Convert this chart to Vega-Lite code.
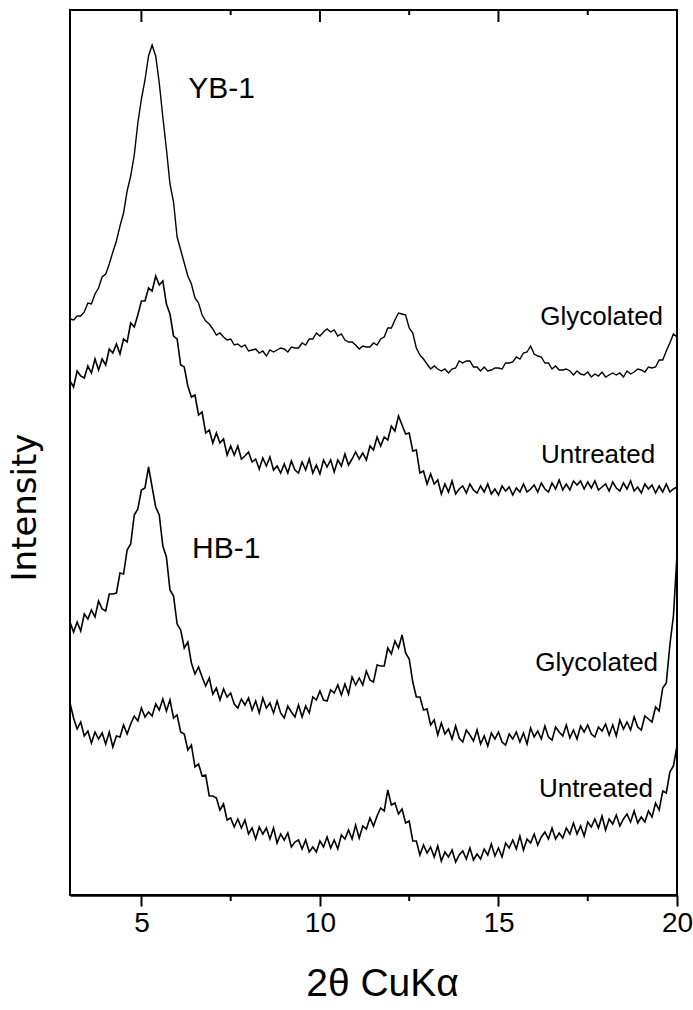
{
  "$schema": "https://vega.github.io/schema/vega-lite/v6.json",
  "width": 607,
  "height": 885,
  "autosize": {"type": "none"},
  "padding": {"left": 70, "top": 10, "right": 16, "bottom": 115},
  "background": "white",
  "config": {"view": {"stroke": "black", "strokeWidth": 2}, "axis": {"grid": false}},
  "datasets": {
    "a": [{"x":3.0,"y":576},{"x":3.1,"y":575},{"x":3.2,"y":579},{"x":3.3,"y":579},{"x":3.4,"y":583},{"x":3.5,"y":592},{"x":3.6,"y":591},{"x":3.7,"y":601},{"x":3.8,"y":607},{"x":3.9,"y":618},
      {"x":4.0,"y":621},{"x":4.1,"y":631},{"x":4.2,"y":643},{"x":4.3,"y":654},{"x":4.4,"y":669},{"x":4.5,"y":682},{"x":4.6,"y":704},{"x":4.7,"y":719},{"x":4.8,"y":740},{"x":4.9,"y":772},
      {"x":5.0,"y":796},{"x":5.1,"y":815},{"x":5.2,"y":839},{"x":5.3,"y":850},{"x":5.4,"y":839},{"x":5.5,"y":812},{"x":5.6,"y":778},{"x":5.7,"y":746},{"x":5.8,"y":711},{"x":5.9,"y":693},
      {"x":6.0,"y":658},{"x":6.1,"y":645},{"x":6.2,"y":632},{"x":6.3,"y":619},{"x":6.4,"y":611},{"x":6.5,"y":597},{"x":6.6,"y":592},{"x":6.7,"y":580},{"x":6.8,"y":574},{"x":6.9,"y":571},
      {"x":7.0,"y":566},{"x":7.1,"y":560},{"x":7.2,"y":562},{"x":7.3,"y":558},{"x":7.4,"y":555},{"x":7.5,"y":556},{"x":7.6,"y":550},{"x":7.7,"y":551},{"x":7.8,"y":548},{"x":7.9,"y":550},
      {"x":8.0,"y":544},{"x":8.1,"y":545},{"x":8.2,"y":546},{"x":8.3,"y":542},{"x":8.4,"y":544},{"x":8.5,"y":539},{"x":8.6,"y":545},{"x":8.7,"y":543},{"x":8.8,"y":545},{"x":8.9,"y":547},
      {"x":9.0,"y":546},{"x":9.1,"y":543},{"x":9.2,"y":548},{"x":9.3,"y":547},{"x":9.4,"y":547},{"x":9.5,"y":552},{"x":9.6,"y":550},{"x":9.7,"y":556},{"x":9.8,"y":556},{"x":9.9,"y":562},
      {"x":10.0,"y":559},{"x":10.1,"y":563},{"x":10.2,"y":566},{"x":10.3,"y":563},{"x":10.4,"y":565},{"x":10.5,"y":559},{"x":10.6,"y":561},{"x":10.7,"y":555},{"x":10.8,"y":553},{"x":10.9,"y":553},
      {"x":11.0,"y":550},{"x":11.1,"y":546},{"x":11.2,"y":549},{"x":11.3,"y":548},{"x":11.4,"y":548},{"x":11.5,"y":552},{"x":11.6,"y":550},{"x":11.7,"y":556},{"x":11.8,"y":558},{"x":11.9,"y":567},
      {"x":12.0,"y":567},{"x":12.1,"y":575},{"x":12.2,"y":582},{"x":12.3,"y":581},{"x":12.4,"y":580},{"x":12.5,"y":567},{"x":12.6,"y":562},{"x":12.7,"y":547},{"x":12.8,"y":540},{"x":12.9,"y":536},
      {"x":13.0,"y":531},{"x":13.1,"y":526},{"x":13.2,"y":529},{"x":13.3,"y":526},{"x":13.4,"y":524},{"x":13.5,"y":526},{"x":13.6,"y":522},{"x":13.7,"y":526},{"x":13.8,"y":527},{"x":13.9,"y":534},
      {"x":14.0,"y":532},{"x":14.1,"y":534},{"x":14.2,"y":534},{"x":14.3,"y":528},{"x":14.4,"y":528},{"x":14.5,"y":524},{"x":14.6,"y":528},{"x":14.7,"y":524},{"x":14.8,"y":525},{"x":14.9,"y":527},
      {"x":15.0,"y":527},{"x":15.1,"y":526},{"x":15.2,"y":532},{"x":15.3,"y":532},{"x":15.4,"y":533},{"x":15.5,"y":538},{"x":15.6,"y":536},{"x":15.7,"y":542},{"x":15.8,"y":543},{"x":15.9,"y":549},
      {"x":16.0,"y":541},{"x":16.1,"y":539},{"x":16.2,"y":538},{"x":16.3,"y":532},{"x":16.4,"y":532},{"x":16.5,"y":526},{"x":16.6,"y":529},{"x":16.7,"y":525},{"x":16.8,"y":525},{"x":16.9,"y":526},
      {"x":17.0,"y":524},{"x":17.1,"y":520},{"x":17.2,"y":524},{"x":17.3,"y":521},{"x":17.4,"y":520},{"x":17.5,"y":523},{"x":17.6,"y":518},{"x":17.7,"y":521},{"x":17.8,"y":519},{"x":17.9,"y":523},
      {"x":18.0,"y":518},{"x":18.1,"y":520},{"x":18.2,"y":522},{"x":18.3,"y":520},{"x":18.4,"y":522},{"x":18.5,"y":518},{"x":18.6,"y":524},{"x":18.7,"y":521},{"x":18.8,"y":523},{"x":18.9,"y":526},
      {"x":19.0,"y":525},{"x":19.1,"y":523},{"x":19.2,"y":528},{"x":19.3,"y":527},{"x":19.4,"y":528},{"x":19.5,"y":535},{"x":19.6,"y":535},{"x":19.7,"y":544},{"x":19.8,"y":552},{"x":19.9,"y":561},
      {"x":20.0,"y":558}],
    "b": [{"x":3.0,"y":514},{"x":3.1,"y":508},{"x":3.2,"y":524},{"x":3.3,"y":519},{"x":3.4,"y":517},{"x":3.5,"y":529},{"x":3.6,"y":522},{"x":3.7,"y":536},{"x":3.8,"y":525},{"x":3.9,"y":536},
      {"x":4.0,"y":530},{"x":4.1,"y":546},{"x":4.2,"y":542},{"x":4.3,"y":551},{"x":4.4,"y":541},{"x":4.5,"y":556},{"x":4.6,"y":553},{"x":4.7,"y":572},{"x":4.8,"y":568},{"x":4.9,"y":580},
      {"x":5.0,"y":594},{"x":5.1,"y":594},{"x":5.2,"y":607},{"x":5.3,"y":604},{"x":5.4,"y":619},{"x":5.5,"y":610},{"x":5.6,"y":614},{"x":5.7,"y":591},{"x":5.8,"y":581},{"x":5.9,"y":559},
      {"x":6.0,"y":556},{"x":6.1,"y":530},{"x":6.2,"y":528},{"x":6.3,"y":509},{"x":6.4,"y":498},{"x":6.5,"y":500},{"x":6.6,"y":480},{"x":6.7,"y":483},{"x":6.8,"y":462},{"x":6.9,"y":465},
      {"x":7.0,"y":452},{"x":7.1,"y":462},{"x":7.2,"y":452},{"x":7.3,"y":456},{"x":7.4,"y":440},{"x":7.5,"y":449},{"x":7.6,"y":440},{"x":7.7,"y":449},{"x":7.8,"y":436},{"x":7.9,"y":439},
      {"x":8.0,"y":443},{"x":8.1,"y":433},{"x":8.2,"y":436},{"x":8.3,"y":426},{"x":8.4,"y":437},{"x":8.5,"y":429},{"x":8.6,"y":438},{"x":8.7,"y":425},{"x":8.8,"y":429},{"x":8.9,"y":422},
      {"x":9.0,"y":431},{"x":9.1,"y":422},{"x":9.2,"y":434},{"x":9.3,"y":425},{"x":9.4,"y":422},{"x":9.5,"y":433},{"x":9.6,"y":425},{"x":9.7,"y":436},{"x":9.8,"y":422},{"x":9.9,"y":430},
      {"x":10.0,"y":421},{"x":10.1,"y":435},{"x":10.2,"y":428},{"x":10.3,"y":435},{"x":10.4,"y":423},{"x":10.5,"y":435},{"x":10.6,"y":429},{"x":10.7,"y":441},{"x":10.8,"y":430},{"x":10.9,"y":436},
      {"x":11.0,"y":443},{"x":11.1,"y":436},{"x":11.2,"y":442},{"x":11.3,"y":435},{"x":11.4,"y":449},{"x":11.5,"y":445},{"x":11.6,"y":458},{"x":11.7,"y":449},{"x":11.8,"y":458},{"x":11.9,"y":455},
      {"x":12.0,"y":469},{"x":12.1,"y":464},{"x":12.2,"y":479},{"x":12.3,"y":470},{"x":12.4,"y":461},{"x":12.5,"y":462},{"x":12.6,"y":444},{"x":12.7,"y":445},{"x":12.8,"y":422},{"x":12.9,"y":424},
      {"x":13.0,"y":411},{"x":13.1,"y":421},{"x":13.2,"y":411},{"x":13.3,"y":415},{"x":13.4,"y":401},{"x":13.5,"y":411},{"x":13.6,"y":403},{"x":13.7,"y":414},{"x":13.8,"y":401},{"x":13.9,"y":406},
      {"x":14.0,"y":409},{"x":14.1,"y":402},{"x":14.2,"y":411},{"x":14.3,"y":405},{"x":14.4,"y":402},{"x":14.5,"y":409},{"x":14.6,"y":403},{"x":14.7,"y":411},{"x":14.8,"y":401},{"x":14.9,"y":406},
      {"x":15.0,"y":400},{"x":15.1,"y":409},{"x":15.2,"y":404},{"x":15.3,"y":408},{"x":15.4,"y":400},{"x":15.5,"y":407},{"x":15.6,"y":403},{"x":15.7,"y":411},{"x":15.8,"y":403},{"x":15.9,"y":406},
      {"x":16.0,"y":410},{"x":16.1,"y":403},{"x":16.2,"y":412},{"x":16.3,"y":406},{"x":16.4,"y":403},{"x":16.5,"y":412},{"x":16.6,"y":406},{"x":16.7,"y":415},{"x":16.8,"y":405},{"x":16.9,"y":411},
      {"x":17.0,"y":405},{"x":17.1,"y":414},{"x":17.2,"y":410},{"x":17.3,"y":414},{"x":17.4,"y":406},{"x":17.5,"y":413},{"x":17.6,"y":407},{"x":17.7,"y":414},{"x":17.8,"y":405},{"x":17.9,"y":408},
      {"x":18.0,"y":411},{"x":18.1,"y":404},{"x":18.2,"y":413},{"x":18.3,"y":407},{"x":18.4,"y":404},{"x":18.5,"y":412},{"x":18.6,"y":406},{"x":18.7,"y":414},{"x":18.8,"y":404},{"x":18.9,"y":408},
      {"x":19.0,"y":402},{"x":19.1,"y":411},{"x":19.2,"y":406},{"x":19.3,"y":410},{"x":19.4,"y":402},{"x":19.5,"y":409},{"x":19.6,"y":403},{"x":19.7,"y":411},{"x":19.8,"y":403},{"x":19.9,"y":406},
      {"x":20.0,"y":408}],
    "c": [{"x":3.0,"y":273},{"x":3.1,"y":263},{"x":3.2,"y":273},{"x":3.3,"y":264},{"x":3.4,"y":281},{"x":3.5,"y":276},{"x":3.6,"y":285},{"x":3.7,"y":278},{"x":3.8,"y":294},{"x":3.9,"y":286},
      {"x":4.0,"y":284},{"x":4.1,"y":301},{"x":4.2,"y":301},{"x":4.3,"y":302},{"x":4.4,"y":322},{"x":4.5,"y":321},{"x":4.6,"y":345},{"x":4.7,"y":351},{"x":4.8,"y":380},{"x":4.9,"y":386},
      {"x":5.0,"y":405},{"x":5.1,"y":407},{"x":5.2,"y":428},{"x":5.3,"y":408},{"x":5.4,"y":388},{"x":5.5,"y":380},{"x":5.6,"y":349},{"x":5.7,"y":338},{"x":5.8,"y":305},{"x":5.9,"y":299},
      {"x":6.0,"y":271},{"x":6.1,"y":265},{"x":6.2,"y":247},{"x":6.3,"y":253},{"x":6.4,"y":232},{"x":6.5,"y":221},{"x":6.6,"y":228},{"x":6.7,"y":218},{"x":6.8,"y":209},{"x":6.9,"y":217},
      {"x":7.0,"y":201},{"x":7.1,"y":207},{"x":7.2,"y":195},{"x":7.3,"y":206},{"x":7.4,"y":198},{"x":7.5,"y":202},{"x":7.6,"y":191},{"x":7.7,"y":187},{"x":7.8,"y":196},{"x":7.9,"y":190},
      {"x":8.0,"y":197},{"x":8.1,"y":185},{"x":8.2,"y":194},{"x":8.3,"y":182},{"x":8.4,"y":197},{"x":8.5,"y":187},{"x":8.6,"y":192},{"x":8.7,"y":182},{"x":8.8,"y":194},{"x":8.9,"y":182},
      {"x":9.0,"y":177},{"x":9.1,"y":189},{"x":9.2,"y":183},{"x":9.3,"y":178},{"x":9.4,"y":190},{"x":9.5,"y":178},{"x":9.6,"y":189},{"x":9.7,"y":182},{"x":9.8,"y":198},{"x":9.9,"y":195},
      {"x":10.0,"y":204},{"x":10.1,"y":195},{"x":10.2,"y":194},{"x":10.3,"y":205},{"x":10.4,"y":202},{"x":10.5,"y":210},{"x":10.6,"y":200},{"x":10.7,"y":211},{"x":10.8,"y":201},{"x":10.9,"y":218},
      {"x":11.0,"y":210},{"x":11.1,"y":217},{"x":11.2,"y":210},{"x":11.3,"y":224},{"x":11.4,"y":215},{"x":11.5,"y":213},{"x":11.6,"y":230},{"x":11.7,"y":229},{"x":11.8,"y":229},{"x":11.9,"y":247},
      {"x":12.0,"y":241},{"x":12.1,"y":254},{"x":12.2,"y":247},{"x":12.3,"y":260},{"x":12.4,"y":242},{"x":12.5,"y":236},{"x":12.6,"y":213},{"x":12.7,"y":198},{"x":12.8,"y":198},{"x":12.9,"y":185},
      {"x":13.0,"y":186},{"x":13.1,"y":170},{"x":13.2,"y":175},{"x":13.3,"y":160},{"x":13.4,"y":172},{"x":13.5,"y":161},{"x":13.6,"y":166},{"x":13.7,"y":156},{"x":13.8,"y":169},{"x":13.9,"y":157},
      {"x":14.0,"y":153},{"x":14.1,"y":165},{"x":14.2,"y":160},{"x":14.3,"y":154},{"x":14.4,"y":165},{"x":14.5,"y":151},{"x":14.6,"y":159},{"x":14.7,"y":149},{"x":14.8,"y":162},{"x":14.9,"y":156},
      {"x":15.0,"y":163},{"x":15.1,"y":153},{"x":15.2,"y":150},{"x":15.3,"y":161},{"x":15.4,"y":156},{"x":15.5,"y":163},{"x":15.6,"y":153},{"x":15.7,"y":162},{"x":15.8,"y":151},{"x":15.9,"y":167},
      {"x":16.0,"y":158},{"x":16.1,"y":164},{"x":16.2,"y":156},{"x":16.3,"y":169},{"x":16.4,"y":158},{"x":16.5,"y":155},{"x":16.6,"y":168},{"x":16.7,"y":163},{"x":16.8,"y":159},{"x":16.9,"y":170},
      {"x":17.0,"y":157},{"x":17.1,"y":165},{"x":17.2,"y":156},{"x":17.3,"y":169},{"x":17.4,"y":163},{"x":17.5,"y":170},{"x":17.6,"y":161},{"x":17.7,"y":158},{"x":17.8,"y":168},{"x":17.9,"y":164},
      {"x":18.0,"y":171},{"x":18.1,"y":160},{"x":18.2,"y":170},{"x":18.3,"y":159},{"x":18.4,"y":175},{"x":18.5,"y":166},{"x":18.6,"y":173},{"x":18.7,"y":165},{"x":18.8,"y":178},{"x":18.9,"y":168},
      {"x":19.0,"y":165},{"x":19.1,"y":179},{"x":19.2,"y":176},{"x":19.3,"y":173},{"x":19.4,"y":188},{"x":19.5,"y":184},{"x":19.6,"y":207},{"x":19.7,"y":212},{"x":19.8,"y":250},{"x":19.9,"y":279},
      {"x":20.0,"y":340}],
    "d": [{"x":3.0,"y":192},{"x":3.1,"y":177},{"x":3.2,"y":166},{"x":3.3,"y":173},{"x":3.4,"y":159},{"x":3.5,"y":164},{"x":3.6,"y":152},{"x":3.7,"y":163},{"x":3.8,"y":156},{"x":3.9,"y":162},
      {"x":4.0,"y":151},{"x":4.1,"y":163},{"x":4.2,"y":148},{"x":4.3,"y":159},{"x":4.4,"y":158},{"x":4.5,"y":170},{"x":4.6,"y":161},{"x":4.7,"y":171},{"x":4.8,"y":179},{"x":4.9,"y":174},
      {"x":5.0,"y":187},{"x":5.1,"y":178},{"x":5.2,"y":183},{"x":5.3,"y":179},{"x":5.4,"y":191},{"x":5.5,"y":185},{"x":5.6,"y":196},{"x":5.7,"y":184},{"x":5.8,"y":195},{"x":5.9,"y":177},
      {"x":6.0,"y":180},{"x":6.1,"y":163},{"x":6.2,"y":161},{"x":6.3,"y":145},{"x":6.4,"y":150},{"x":6.5,"y":128},{"x":6.6,"y":131},{"x":6.7,"y":119},{"x":6.8,"y":120},{"x":6.9,"y":99},
      {"x":7.0,"y":99},{"x":7.1,"y":97},{"x":7.2,"y":85},{"x":7.3,"y":91},{"x":7.4,"y":75},{"x":7.5,"y":77},{"x":7.6,"y":68},{"x":7.7,"y":76},{"x":7.8,"y":67},{"x":7.9,"y":75},
      {"x":8.0,"y":61},{"x":8.1,"y":67},{"x":8.2,"y":56},{"x":8.3,"y":68},{"x":8.4,"y":61},{"x":8.5,"y":67},{"x":8.6,"y":56},{"x":8.7,"y":67},{"x":8.8,"y":52},{"x":8.9,"y":61},
      {"x":9.0,"y":55},{"x":9.1,"y":62},{"x":9.2,"y":48},{"x":9.3,"y":53},{"x":9.4,"y":55},{"x":9.5,"y":46},{"x":9.6,"y":55},{"x":9.7,"y":43},{"x":9.8,"y":48},{"x":9.9,"y":43},
      {"x":10.0,"y":54},{"x":10.1,"y":48},{"x":10.2,"y":58},{"x":10.3,"y":47},{"x":10.4,"y":55},{"x":10.5,"y":46},{"x":10.6,"y":60},{"x":10.7,"y":56},{"x":10.8,"y":65},{"x":10.9,"y":56},
      {"x":11.0,"y":70},{"x":11.1,"y":57},{"x":11.2,"y":69},{"x":11.3,"y":66},{"x":11.4,"y":77},{"x":11.5,"y":69},{"x":11.6,"y":79},{"x":11.7,"y":87},{"x":11.8,"y":84},{"x":11.9,"y":105},
      {"x":12.0,"y":90},{"x":12.1,"y":92},{"x":12.2,"y":81},{"x":12.3,"y":86},{"x":12.4,"y":72},{"x":12.5,"y":74},{"x":12.6,"y":54},{"x":12.7,"y":54},{"x":12.8,"y":40},{"x":12.9,"y":50},
      {"x":13.0,"y":42},{"x":13.1,"y":48},{"x":13.2,"y":38},{"x":13.3,"y":49},{"x":13.4,"y":34},{"x":13.5,"y":43},{"x":13.6,"y":38},{"x":13.7,"y":45},{"x":13.8,"y":33},{"x":13.9,"y":40},
      {"x":14.0,"y":44},{"x":14.1,"y":36},{"x":14.2,"y":47},{"x":14.3,"y":35},{"x":14.4,"y":41},{"x":14.5,"y":36},{"x":14.6,"y":46},{"x":14.7,"y":40},{"x":14.8,"y":51},{"x":14.9,"y":39},
      {"x":15.0,"y":47},{"x":15.1,"y":38},{"x":15.2,"y":52},{"x":15.3,"y":47},{"x":15.4,"y":55},{"x":15.5,"y":46},{"x":15.6,"y":59},{"x":15.7,"y":45},{"x":15.8,"y":56},{"x":15.9,"y":52},
      {"x":16.0,"y":61},{"x":16.1,"y":50},{"x":16.2,"y":58},{"x":16.3,"y":63},{"x":16.4,"y":56},{"x":16.5,"y":67},{"x":16.6,"y":56},{"x":16.7,"y":62},{"x":16.8,"y":57},{"x":16.9,"y":67},
      {"x":17.0,"y":61},{"x":17.1,"y":72},{"x":17.2,"y":61},{"x":17.3,"y":69},{"x":17.4,"y":59},{"x":17.5,"y":73},{"x":17.6,"y":68},{"x":17.7,"y":76},{"x":17.8,"y":67},{"x":17.9,"y":79},
      {"x":18.0,"y":65},{"x":18.1,"y":76},{"x":18.2,"y":71},{"x":18.3,"y":80},{"x":18.4,"y":69},{"x":18.5,"y":76},{"x":18.6,"y":81},{"x":18.7,"y":73},{"x":18.8,"y":84},{"x":18.9,"y":72},
      {"x":19.0,"y":78},{"x":19.1,"y":73},{"x":19.2,"y":84},{"x":19.3,"y":78},{"x":19.4,"y":92},{"x":19.5,"y":85},{"x":19.6,"y":104},{"x":19.7,"y":102},{"x":19.8,"y":123},{"x":19.9,"y":129},
      {"x":20.0,"y":149}],
    "labelsLeft": [{"t":"YB-1","x":6.31,"y":797},{"t":"HB-1","x":6.42,"y":337}],
    "labelsRight": [{"t":"Glycolated","x":19.61,"y":570},{"t":"Untreated","x":19.39,"y":432},{"t":"Glycolated","x":19.47,"y":224},{"t":"Untreated","x":19.33,"y":98}],
    "majorTicks": [{"x":5},{"x":10},{"x":15}],
    "minorTicks": [{"x":7.5},{"x":12.5},{"x":17.5}]
  },
  "resolve": {"axis": {"y": "independent"}},
  "layer": [
    {
      "data": {"name": "a"},
      "mark": {"type": "line", "color": "black", "strokeWidth": 1.4},
      "encoding": {
        "x": {"field": "x", "type": "quantitative", "scale": {"domain": [3, 20], "nice": false, "zero": false},
          "axis": {"orient": "bottom", "values": [5, 10, 15, 20], "tickSize": 11, "tickWidth": 2, "tickColor": "black", "domainColor": "black", "domainWidth": 2.5,
            "labelFont": "Liberation Sans", "labelFontSize": 28, "labelColor": "black", "labelPadding": 3, "labelFlush": false, "labelOverlap": false,
            "title": "2θ CuKα", "titleFont": "Liberation Sans", "titleFontSize": 39, "titleFontWeight": "normal", "titleColor": "black",
            "titleX": 312, "titleY": 88, "titleBaseline": "middle", "titleAlign": "center"}},
        "y": {"field": "y", "type": "quantitative", "scale": {"domain": [0, 885], "nice": false, "zero": false},
          "axis": {"orient": "left", "ticks": false, "labels": false, "domain": false, "title": "Intensity",
            "titleFont": "DejaVu Sans", "titleFontSize": 34, "titleFontWeight": "normal", "titleColor": "black",
            "titleX": -45, "titleY": 497, "titleAngle": -90, "titleBaseline": "middle", "titleAlign": "center"}}
      }
    },
    {
      "data": {"name": "b"},
      "mark": {"type": "line", "color": "black", "strokeWidth": 1.6},
      "encoding": {
        "x": {"field": "x", "type": "quantitative"},
        "y": {"field": "y", "type": "quantitative", "axis": null}
      }
    },
    {
      "data": {"name": "c"},
      "mark": {"type": "line", "color": "black", "strokeWidth": 1.6},
      "encoding": {
        "x": {"field": "x", "type": "quantitative"},
        "y": {"field": "y", "type": "quantitative", "axis": null}
      }
    },
    {
      "data": {"name": "d"},
      "mark": {"type": "line", "color": "black", "strokeWidth": 1.6},
      "encoding": {
        "x": {"field": "x", "type": "quantitative"},
        "y": {"field": "y", "type": "quantitative", "axis": null}
      }
    },
    {
      "data": {"name": "majorTicks"},
      "mark": {"type": "rule", "color": "black", "strokeWidth": 2},
      "encoding": {
        "x": {"field": "x", "type": "quantitative"},
        "y": {"datum": 885, "type": "quantitative", "axis": null},
        "y2": {"datum": 873}
      }
    },
    {
      "data": {"name": "minorTicks"},
      "mark": {"type": "rule", "color": "black", "strokeWidth": 2},
      "encoding": {
        "x": {"field": "x", "type": "quantitative"},
        "y": {"datum": 885, "type": "quantitative", "axis": null},
        "y2": {"datum": 880}
      }
    },
    {
      "data": {"name": "minorTicks"},
      "mark": {"type": "rule", "color": "black", "strokeWidth": 2},
      "encoding": {
        "x": {"field": "x", "type": "quantitative"},
        "y": {"datum": 0, "type": "quantitative", "axis": null},
        "y2": {"datum": -6}
      }
    },
    {
      "data": {"name": "labelsLeft"},
      "mark": {"type": "text", "align": "left", "baseline": "alphabetic", "font": "Liberation Sans", "fontSize": 30, "color": "black"},
      "encoding": {
        "x": {"field": "x", "type": "quantitative"},
        "y": {"field": "y", "type": "quantitative", "axis": null},
        "text": {"field": "t"}
      }
    },
    {
      "data": {"name": "labelsRight"},
      "mark": {"type": "text", "align": "right", "baseline": "alphabetic", "font": "Liberation Sans", "fontSize": 26, "color": "black"},
      "encoding": {
        "x": {"field": "x", "type": "quantitative"},
        "y": {"field": "y", "type": "quantitative", "axis": null},
        "text": {"field": "t"}
      }
    }
  ]
}
